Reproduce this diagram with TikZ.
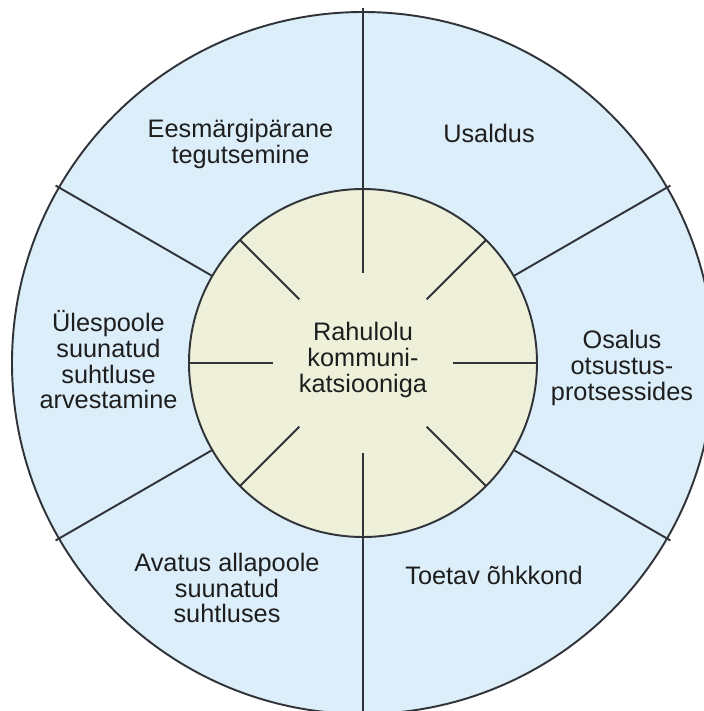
\documentclass[tikz,border=0pt]{standalone}
\usepackage{fontspec}
\setmainfont{Liberation Sans}
\usepackage{tikz}
\usetikzlibrary{calc}
\usepackage{xcolor}
\definecolor{ringfill}{RGB}{220, 238, 250}
\definecolor{corefill}{RGB}{238, 240, 218}
\definecolor{edgeclr}{RGB}{48, 52, 56}
\definecolor{txtclr}{RGB}{30, 30, 30}
\tikzset{
  % Ring and core
  ringshape/.style = {fill=ringfill, draw=edgeclr, line width=1.1pt},
  coreshape/.style = {fill=corefill, draw=edgeclr, line width=1.1pt},
  % Dividing lines
  divline/.style   = {draw=edgeclr, line width=1.1pt},
  % Labels
  lab/.style       = {align=center, text=txtclr, inner sep=1pt,
                      font=\fontsize{14.4}{14.6}\selectfont},
}
\begin{document}
\begin{tikzpicture}
  \useasboundingbox (-7.26,-6.96) rectangle (6.82,7.26);
  \clip (-7.26,-6.96) rectangle (6.82,7.26);
  % outer ring with six sectors
  \fill[ringfill] (0,0) circle (7.02);
  \foreach \a in {90,30,-30,-90,-150,150}
    \draw[divline] (\a:3.4) -- (\a:7.1);
  \draw[ringshape, fill=none] (0,0) circle (7.02);
  % inner circle with eight short rays
  \draw[coreshape] (0,0) circle (3.48);
  \foreach \a in {0,45,...,315}
    \draw[divline] (\a:1.8) -- (\a:3.48);
  % labels
  \node[lab] (rahulolu) at (0,0.06) {Rahulolu\\kommuni-\\katsiooniga};
  \node[lab] (eesmark) at (-2.45,4.38) {Eesmärgipärane\\tegutsemine};
  \node[lab] (usaldus) at (2.52,4.60) {Usaldus};
  \node[lab] (osalus) at (5.18,-0.10) {Osalus\\otsustus-\\protsessides};
  \node[lab] (toetav) at (2.62,-4.24) {Toetav õhkkond};
  \node[lab] (avatus) at (-2.72,-4.50) {Avatus allapoole\\suunatud\\suhtluses};
  \node[lab] (ules) at (-5.09,0.06) {Ülespoole\\suunatud\\suhtluse\\arvestamine};
\end{tikzpicture}
\end{document}
